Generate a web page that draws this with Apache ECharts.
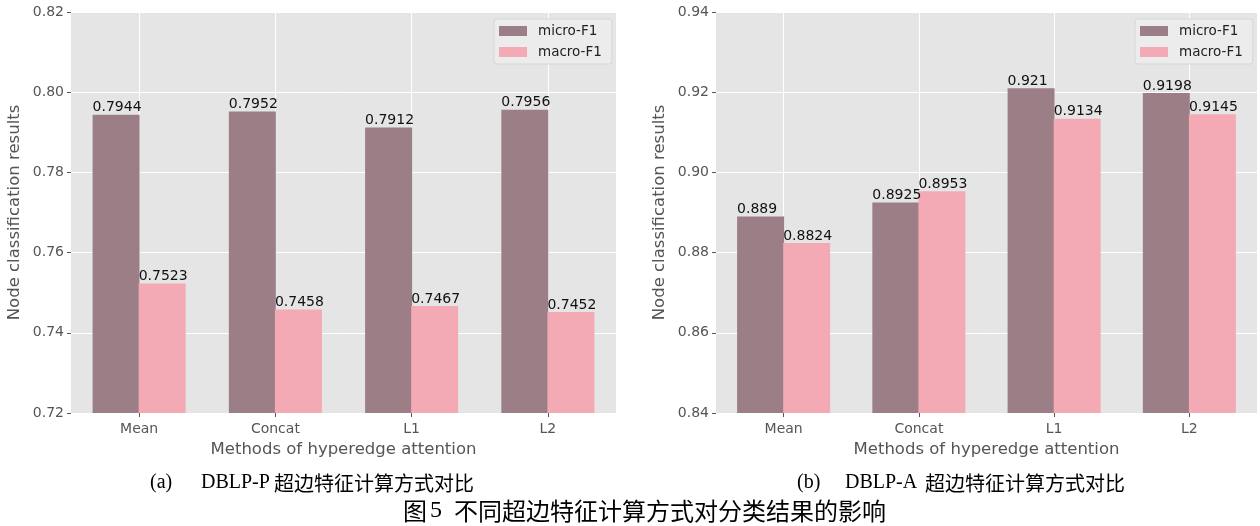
<!DOCTYPE html>
<html><head><meta charset="utf-8">
<script src="https://cdn.jsdelivr.net/npm/echarts@6/dist/echarts.min.js"></script>
<style>html,body{margin:0;padding:0;background:#fff}#c{width:1260px;height:526px}</style>
</head><body><div id="c"></div>
<script>
const categories = ['Mean', 'Concat', 'L1', 'L2'];
const seriesNames = ['micro-F1', 'macro-F1'];
const microP = [0.7944, 0.7952, 0.7912, 0.7956];
const macroP = [0.7523, 0.7458, 0.7467, 0.7452];
const microA = [0.889, 0.8925, 0.921, 0.9198];
const macroA = [0.8824, 0.8953, 0.9134, 0.9145];
const yTicksP = [0.72, 0.74, 0.76, 0.78, 0.80, 0.82];
const yTicksA = [0.84, 0.86, 0.88, 0.90, 0.92, 0.94];
const captionA = ['(a)', 'DBLP-P', '超边特征计算方式对比'];
const captionB = ['(b)', 'DBLP-A', '超边特征计算方式对比'];
const figTitle = ['图', '5', '不同超边特征计算方式对分类结果的影响'];

const C_MICRO = '#9c7f86', C_MACRO = '#f4aab4';
const FONT = 'DejaVu Sans';
const SERIF = '"Liberation Serif", "Noto Sans CJK SC"';
const CJK = '"Noto Sans CJK SC"';
const chart = echarts.init(document.getElementById('c'));

// half-band helper axis: its band boundaries at odd indices fall on category centres
const halfBands = categories.flatMap(c => [c + '_l', c + '_r']);

function xAxis(gi) {
  return {
    type: 'category', gridIndex: gi, data: categories, position: 'bottom',
    name: 'Methods of hyperedge attention', nameLocation: 'middle', nameGap: 28,
    nameTextStyle: {fontFamily: FONT, fontSize: 16.5, color: '#555'},
    axisLine: {show: false},
    axisTick: {show: true, alignWithLabel: true, length: 4, lineStyle: {color: '#555'}},
    axisLabel: {fontFamily: FONT, fontSize: 14, color: '#555', margin: 9},
    splitLine: {show: false}
  };
}
function gridXAxis(gi) {
  return {
    type: 'category', gridIndex: gi, data: halfBands, position: 'top',
    axisLine: {show: false}, axisTick: {show: false}, axisLabel: {show: false},
    splitLine: {show: true, interval: (i) => i % 2 === 1, lineStyle: {color: '#fff', width: 1}}
  };
}
function yAxis(gi, ticks) {
  return {
    type: 'value', gridIndex: gi, min: ticks[0], max: ticks[ticks.length - 1], interval: 0.02,
    name: 'Node classification results', nameLocation: 'middle', nameGap: 48,
    nameTextStyle: {fontFamily: FONT, fontSize: 16.5, color: '#555'},
    axisLine: {show: false},
    axisTick: {show: true, length: 4, lineStyle: {color: '#555'}},
    axisLabel: {fontFamily: FONT, fontSize: 14, color: '#555', margin: 7,
      formatter: v => v.toFixed(2)},
    splitLine: {show: true, lineStyle: {color: '#fff', width: 1}}
  };
}
function barSeries(name, data, gi, color) {
  return {
    type: 'bar', name: name, xAxisIndex: gi, yAxisIndex: gi, data: data,
    barWidth: 47, barGap: '-2%', z: 3,
    itemStyle: {color: color},
    label: {show: true, position: [0, 0], align: 'left', verticalAlign: 'bottom',
      fontFamily: FONT, fontSize: 14, color: '#111', formatter: p => String(p.value)}
  };
}
function legend(left) {
  return {
    left: left, top: 19, orient: 'vertical', data: seriesNames,
    itemWidth: 28, itemHeight: 10, itemGap: 5, icon: 'rect',
    padding: [4, 10, 4, 5],
    backgroundColor: 'rgba(236,236,236,0.9)', borderColor: '#d6d6d6', borderWidth: 1, borderRadius: 3,
    textStyle: {fontFamily: FONT, fontSize: 13.5, color: '#222', lineHeight: 16, padding: [0, 0, 0, 6]}
  };
}
function txt(x, y, s, font) {
  return {type: 'text', x: x, y: y, silent: true,
    style: {text: s, font: font, fill: '#000', textAlign: 'left', textVerticalAlign: 'middle'}};
}

chart.setOption({
  animation: false,
  backgroundColor: '#fff',
  grid: [
    {left: 71, top: 12, width: 545, height: 401, show: true, backgroundColor: '#e5e5e5', borderWidth: 0},
    {left: 716, top: 12, width: 541, height: 401, show: true, backgroundColor: '#e5e5e5', borderWidth: 0}
  ],
  xAxis: [xAxis(0), xAxis(1), gridXAxis(0), gridXAxis(1)],
  yAxis: [yAxis(0, yTicksP), yAxis(1, yTicksA)],
  legend: [legend(494), legend(1135)],
  series: [
    barSeries(seriesNames[0], microP, 0, C_MICRO),
    barSeries(seriesNames[1], macroP, 0, C_MACRO),
    barSeries(seriesNames[0], microA, 1, C_MICRO),
    barSeries(seriesNames[1], macroA, 1, C_MACRO)
  ],
  graphic: [
    txt(150, 483, captionA[0], '20px ' + SERIF),
    txt(201, 483, captionA[1], '20px ' + SERIF),
    txt(274, 483, captionA[2], '20px ' + CJK),
    txt(797, 483, captionB[0], '20px ' + SERIF),
    txt(845, 483, captionB[1], '20px ' + SERIF),
    txt(925, 483, captionB[2], '20px ' + CJK),
    txt(403, 511, figTitle[0], '24px ' + CJK),
    txt(430, 511, figTitle[1], '24px ' + SERIF),
    txt(454, 511, figTitle[2], '24px ' + CJK)
  ]
});
</script></body></html>
